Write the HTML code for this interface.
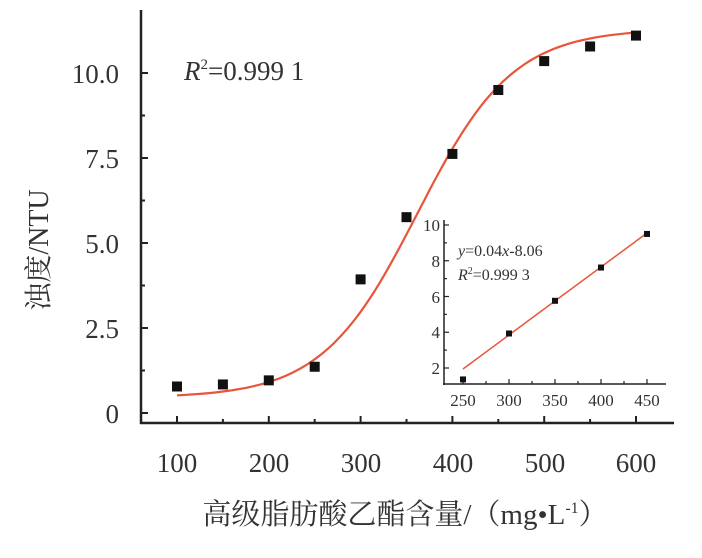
<!DOCTYPE html>
<html><head><meta charset="utf-8"><style>
body{margin:0;background:#fff}
svg text{font-family:"Liberation Serif","Noto Serif CJK SC",serif;fill:#333}
</style></head><body>
<svg id="s" width="702" height="553" viewBox="0 0 702 553" xmlns="http://www.w3.org/2000/svg">
<rect width="702" height="553" fill="#fff"/>
<g stroke="#222" stroke-width="2.5" fill="none">
<line x1="141" y1="10" x2="141" y2="424"/>
<line x1="140" y1="423" x2="674" y2="423"/>
</g>
<g id="mt" stroke="#222" stroke-width="2"></g>
<g font-size="27" text-anchor="end">
<text x="119" y="423">0</text>
<text x="119" y="338">2.5</text>
<text x="119" y="253">5.0</text>
<text x="119" y="168">7.5</text>
<text x="119" y="83">10.0</text>
</g>
<g font-size="27" text-anchor="middle">
<text x="177" y="472">100</text><text x="269" y="472">200</text><text x="361" y="472">300</text>
<text x="453" y="472">400</text><text x="545" y="472">500</text><text x="636" y="472">600</text>
</g>
<text x="184" y="80" font-size="27"><tspan font-style="italic">R</tspan><tspan font-size="15" dy="-11">2</tspan><tspan dy="11">=0.999 1</tspan></text>
<text transform="translate(48,250) rotate(-90)" font-size="28" text-anchor="middle">浊度/NTU</text>
<text x="405" y="524" font-size="29" text-anchor="middle">高级脂肪酸乙酯含量/（mg•L<tspan font-size="16" dy="-11">-1</tspan><tspan dy="11">）</tspan></text>
<path id="curve" stroke="#e8553a" stroke-width="2.2" fill="none"/>
<g id="pts" fill="#111"></g>
<g stroke="#222" stroke-width="1.5" fill="none">
<line x1="444" y1="220" x2="444" y2="385"/>
<line x1="443" y1="384" x2="666" y2="384"/>
</g>
<g id="it" stroke="#222" stroke-width="1.2"></g>
<g font-size="17" text-anchor="end">
<text x="440" y="374">2</text><text x="440" y="338">4</text><text x="440" y="303">6</text><text x="440" y="267">8</text><text x="440" y="231">10</text>
</g>
<g font-size="17" text-anchor="middle">
<text x="463" y="406">250</text><text x="509" y="406">300</text><text x="555" y="406">350</text><text x="601" y="406">400</text><text x="647" y="406">450</text>
</g>
<text x="458" y="256" font-size="16"><tspan font-style="italic">y</tspan>=0.04<tspan font-style="italic">x</tspan>-8.06</text>
<text x="458" y="280" font-size="16"><tspan font-style="italic">R</tspan><tspan font-size="10" dy="-6">2</tspan><tspan dy="6">=0.999 3</tspan></text>
<line x1="463" y1="369" x2="647" y2="233" stroke="#e8553a" stroke-width="1.5"/>
<g id="ip" fill="#111"></g>
</svg>
<script>
var ns="http://www.w3.org/2000/svg";
function X(v){return 177+(v-100)*(636-177)/500}
function Y(v){return 413-v*34}
function el(p,t,a){var e=document.createElementNS(ns,t);for(var k in a)e.setAttribute(k,a[k]);document.getElementById(p).appendChild(e)}
for(var v=0;v<=11;v+=1.25){var y=Y(v);el("mt","line",{x1:141,y1:y,x2:v%2.5==0?148:145,y2:y})}
for(var x=100;x<=600;x+=50){var xx=X(x);el("mt","line",{x1:xx,y1:423,x2:xx,y2:x%100==0?416:419})}
var d="";for(var x=100;x<=600;x+=5){var f=0.45+10.85/(1+Math.exp((362-x)/52));d+=(x==100?"M":"L")+X(x).toFixed(1)+","+Y(f).toFixed(1)}
document.getElementById("curve").setAttribute("d",d);
var data=[[100,.78],[150,.84],[200,.96],[250,1.36],[300,3.93],[350,5.76],[400,7.62],[450,9.5],[500,10.35],[550,10.78],[600,11.1]];
data.forEach(function(p){el("pts","rect",{x:X(p[0])-5,y:Y(p[1])-5,width:10,height:10})});
function IX(v){return 463+(v-250)*184/200}function IY(v){return 368-(v-2)*143/8}
for(var v=2;v<=10;v+=1)el("it","line",{x1:444,y1:IY(v),x2:v%2==0?449:447,y2:IY(v)});
for(var x=250;x<=450;x+=25)el("it","line",{x1:IX(x),y1:384,x2:IX(x),y2:x%50==0?379:381});
[[250,1.36],[300,3.93],[350,5.76],[400,7.62],[450,9.5]].forEach(function(p){el("ip","rect",{x:IX(p[0])-3,y:IY(p[1])-3,width:6,height:6})});
</script>
</body></html>
